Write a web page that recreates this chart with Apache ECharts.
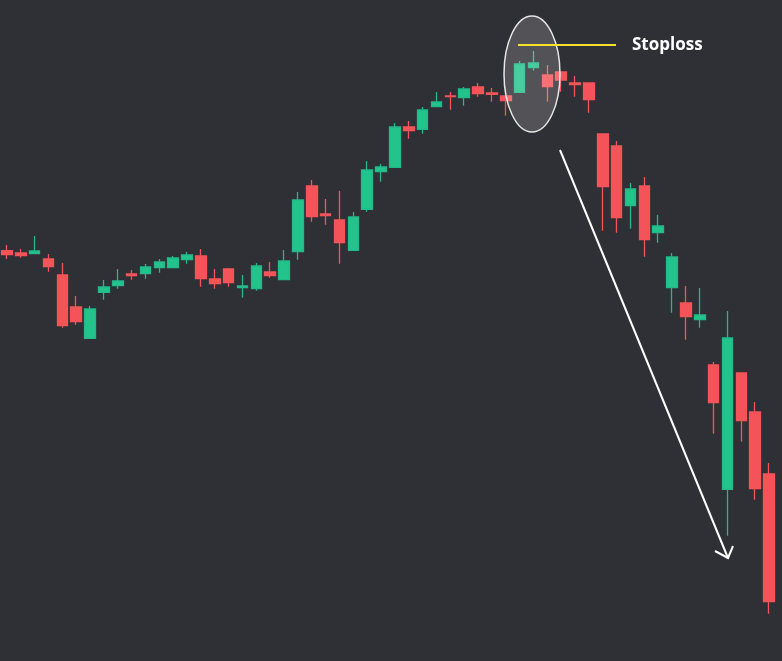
<!DOCTYPE html>
<html><head><meta charset="utf-8">
<script src="https://cdn.jsdelivr.net/npm/echarts@6/dist/echarts.min.js"></script>
<style>html,body{margin:0;padding:0;background:#2f3035;}#c{width:782px;height:661px;}</style>
</head><body><div id="c"></div>
<script>
const opens  = [410.3,408,407.3,402,386,354,322.7,368.7,375.3,387,387.3,393.3,393.3,401.3,405,382,392,373.3,372.3,389,381.3,409.3,475,447,441,410.7,451.7,489.3,493.7,534,531.7,554.3,565,563.3,574,568,565,568.7,593.3,586,589,578,578,527,515,455.3,475,428.3,373.3,358,341.3,296,171.7,288,249,187];
const closes = [406.3,405.3,410,394.3,335.3,339.3,352,374,380,385.3,394,399,403,406,382.3,377.3,378.3,375,395,385.3,400,461,444.3,445.3,418.3,444,491,494,534,530.3,551,559,564.3,572,567.3,566.7,560.3,597,598,574.3,581,576.3,561.3,474.3,443.3,472,421.3,435,404,344.3,346,258.3,323,240.3,172.3,59.3];
const lows   = [402,403.3,407.3,389.3,333.3,336.3,322.7,361.3,372.3,381.3,382.3,388.3,393.3,397.3,374.3,372.3,374.3,363.3,370.3,383.3,381.3,401.3,439.3,436.3,397.3,410.7,449.3,479.3,493.7,522.3,527.3,554.3,551.3,555.3,564.3,559.3,545.3,568.7,590.3,559.3,569.3,564.3,548.3,430.3,428.3,432.3,404.3,418.3,348.3,321.3,333.3,227.3,125.3,219.3,161.3,47.3];
const highs  = [416,412,425,407,398,365,355,381,392,391,397,402,405,409,412,392,393,386,398,399,411,469,481,462,470,449,500,497,538,540,554,569,569,574,578,573,565,600,610,596,589,585,578,527,520,478,484,446,408,375,373,299,350,288,259,198];
const categories = opens.map((_, i) => 'C' + (i + 1));
const labels = { stoploss: 'Stoploss' };

const chart = echarts.init(document.getElementById('c'));
chart.setOption({
  backgroundColor: '#2f3035',
  animation: false,
  grid: { left: -4, width: 780, top: 0, height: 661 },
  xAxis: { type: 'category', data: categories, show: false, boundaryGap: true },
  yAxis: { type: 'value', min: 0, max: 661, show: false, splitLine: { show: false } },
  series: [{
    type: 'candlestick',
    barWidth: 11,
    data: opens.map((o, i) => [o, closes[i], lows[i], highs[i]]),
    itemStyle: { color: '#23c48b', color0: '#f45459', borderColor: '#23b88a', borderColor0: '#f45459', borderWidth: 1.3 }
  }],
  graphic: [
    { type: 'ellipse', shape: { cx: 532, cy: 74, rx: 28, ry: 58 }, style: { fill: 'rgba(255,255,255,0.17)', stroke: '#e6e6e6', lineWidth: 1.5 }, z: 100 },
    { type: 'line', shape: { x1: 518, y1: 45, x2: 616, y2: 45 }, style: { stroke: '#f5e12c', lineWidth: 2 }, z: 101 },
    { type: 'text', left: 632, top: 37, style: { text: labels.stoploss, fill: '#ffffff', font: 'bold 17px "Open Sans", sans-serif' }, z: 101 },
    { type: 'line', shape: { x1: 560, y1: 150, x2: 728, y2: 558 }, style: { stroke: '#ffffff', lineWidth: 2 }, z: 101 },
    { type: 'polyline', shape: { points: [[715, 551], [728, 558], [733, 546]] }, style: { stroke: '#ffffff', lineWidth: 2, fill: null }, z: 101 }
  ]
});
</script></body></html>
